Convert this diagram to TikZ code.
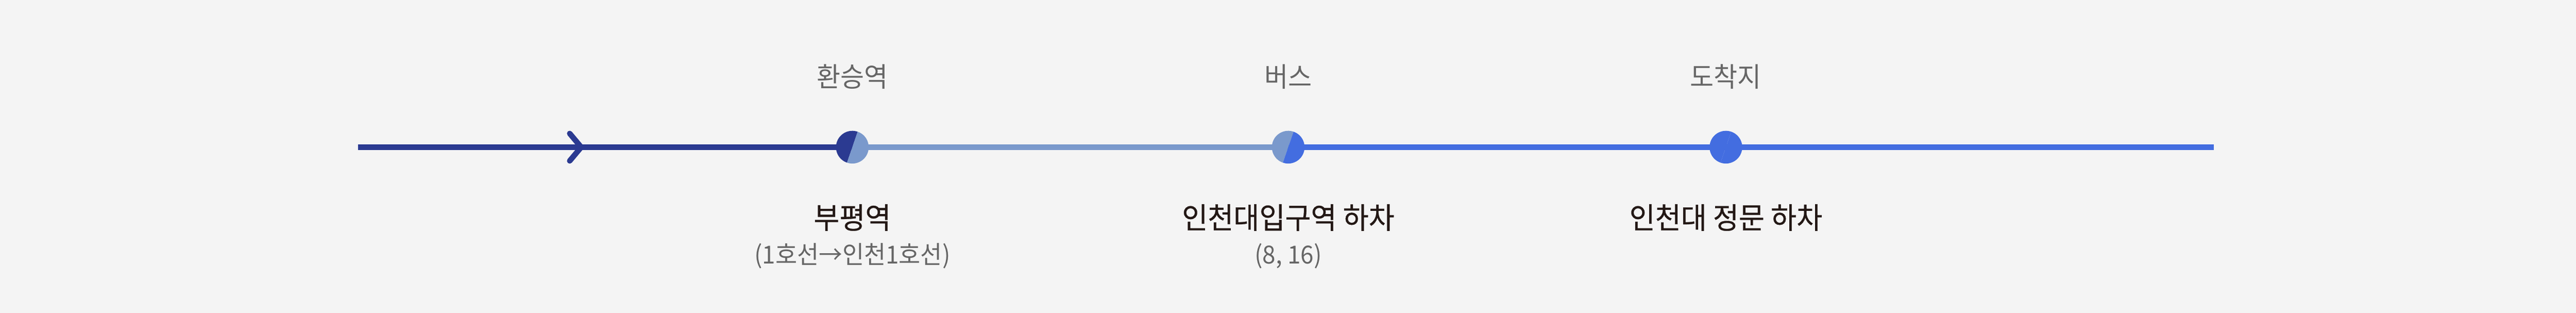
\documentclass[tikz,border=0pt]{standalone}
\usepackage{fontspec}
\newfontfamily\krfont[FakeStretch=0.95]{Noto Sans CJK KR}
\newfontfamily\krmedium[FakeStretch=0.95,FakeBold=0.5]{Noto Sans CJK KR}
\usetikzlibrary{positioning}
\definecolor{bg}{HTML}{F4F4F4}
\definecolor{lineDark}{HTML}{2B3A91}
\definecolor{lineLight}{HTML}{7A99CC}
\definecolor{lineBlue}{HTML}{436DE0}
\definecolor{labelgray}{HTML}{666666}
\definecolor{textdark}{HTML}{231815}
\tikzstyle{every node}=[inner sep=0pt,outer sep=0pt]
\tikzstyle{track}=[line width=3.56pt,line cap=butt]
\tikzstyle{stop}=[circle,minimum size=7.4mm]
\tikzstyle{toplabel}=[font=\krfont\fontsize{17.5}{22}\selectfont,text=labelgray]
\tikzstyle{mainlabel}=[font=\krmedium\fontsize{19}{23}\selectfont,text=textdark]
\tikzstyle{sublabel}=[font=\krfont\fontsize{16}{20}\selectfont,text=labelgray]

\begin{document}
\begin{tikzpicture}
  \fill[bg] (0,0) rectangle (58.33,7.08);
  \useasboundingbox (0,0) rectangle (58.33,7.08);
  % stops
  \coordinate (start) at (8.11,3.75);
  \coordinate (end) at (50.13,3.75);
  \node[stop] (s1) at (19.30,3.75) {};
  \node[stop] (s2) at (29.17,3.75) {};
  \node[stop] (s3) at (39.08,3.75) {};
  % track
  \draw[track,lineDark] (start) -- (s1.center);
  \draw[track,lineLight] (s1.center) -- (s2.center);
  \draw[track,lineBlue] (s2.center) -- (s3.center);
  \draw[track,lineBlue] (s3.center) -- (end);
  % arrow
  \coordinate (tip) at (13.16,3.75);
  \draw[lineDark,line width=3.56pt,line cap=round,line join=miter]
    ([shift={(-0.26,0.31)}]tip) -- (tip) -- ([shift={(-0.26,-0.31)}]tip);
  % dots
  \foreach \s/\l/\r in {s1/lineDark/lineLight,s2/lineLight/lineBlue,s3/lineBlue/lineBlue} {
    \fill[\l] (\s.center) -- (\s.71) arc[start angle=71,end angle=251,radius=3.7mm] -- cycle;
    \fill[\r] (\s.center) -- (\s.251) arc[start angle=251,end angle=431,radius=3.7mm] -- cycle;
  }
  % labels
  \foreach \s/\t in {s1/환승역,s2/버스,s3/도착지}
    \node[toplabel,above=0.95cm of \s] (t\s) {\t};
  \node[mainlabel,below=0.92cm of s1] (m1) {부평역};
  \node[mainlabel,below=0.92cm of s2] (m2) {인천대입구역 하차};
  \node[mainlabel,below=0.92cm of s3] (m3) {인천대 정문 하차};
  \node[sublabel,below=0.28cm of m1] (n1) {(1호선→인천1호선)};
  \node[sublabel,below=0.28cm of m2] (n2) {(8, 16)};
\end{tikzpicture}
\end{document}
